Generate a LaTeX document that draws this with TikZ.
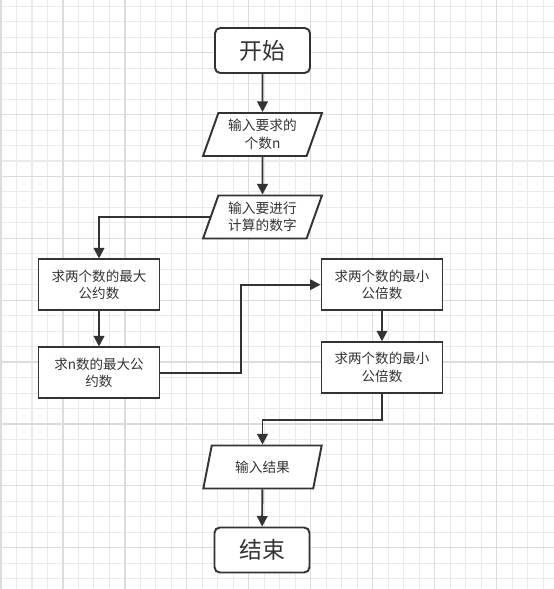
\documentclass[tikz,border=0pt]{standalone}
\usepackage{fontspec}
\setmainfont{Noto Sans CJK SC}
\usepackage{tikz}
\usetikzlibrary{shapes.geometric, arrows.meta, positioning}
\definecolor{inkgrey}{RGB}{51, 51, 51}
\definecolor{gridminor}{RGB}{234, 234, 234}
\definecolor{gridmajor}{RGB}{220, 220, 220}

\begin{document}
\begin{tikzpicture}[x=0.02cm, y=-0.02cm]
    % Styles
    \tikzstyle{startstop} = [rectangle, draw=inkgrey, fill=white, line width=1.1pt, rounded corners=3pt,
        minimum width=1.9cm, minimum height=0.9cm, text=inkgrey, font=\fontsize{13}{15}\selectfont]
    \tikzstyle{io} = [trapezium, trapezium left angle=68, trapezium right angle=112, trapezium stretches=true,
        draw=inkgrey, fill=white, line width=1.1pt, minimum width=2.38cm, minimum height=0.86cm,
        text width=1.5cm, align=center, inner sep=1pt, text=inkgrey, font=\fontsize{7.8}{10}\selectfont]
    \tikzstyle{process} = [rectangle, draw=inkgrey, fill=white, line width=1.1pt,
        minimum width=2.42cm, minimum height=1.01cm, text width=2.2cm, align=center, inner sep=1pt,
        text=inkgrey, font=\fontsize{7.7}{10}\selectfont]
    \tikzstyle{arrow} = [line width=1.1pt, inkgrey, -{Triangle[length=6pt, width=6pt]}]

    \useasboundingbox (0,0) rectangle (554,589);
    \fill[white] (0,0) rectangle (554,589);

    % Grid
    \foreach \i in {0,...,35}
        \draw[gridminor, line width=0.6pt] ({1+15.49*\i},0) -- ({1+15.49*\i},589);
    \foreach \j in {-3,...,34}
        \draw[gridminor, line width=0.6pt] (0,{52.7+15.47*\j}) -- (554,{52.7+15.47*\j});
    \foreach \i in {0,4,...,32}
        \draw[gridmajor, line width=0.7pt] ({1+15.49*\i},0) -- ({1+15.49*\i},589);
    \foreach \j in {0,4,...,32}
        \draw[gridmajor, line width=0.7pt] (0,{52.7+15.47*\j}) -- (554,{52.7+15.47*\j});

    % Nodes
    \node [startstop] (start) at (262.5,50.5) {开始};
    \node [io] (readn) at (262.5,134.5) {输入要求的\\个数n};
    \node [io] (readnums) at (262.5,217) {输入要进行\\计算的数字};
    \node [process] (gcdtwo) at (99,284.7) {求两个数的最大\\公约数};
    \node [process] (gcdn) at (99,372.7) {求n数的最大公\\约数};
    \node [process] (lcmtwo) at (382,284.7) {求两个数的最小\\公倍数};
    \node [process] (lcmn) at (382,367.5) {求两个数的最小\\公倍数};
    \node [io] (result) at (262.5,467) {输入结果};
    \node [startstop] (stop) at (262,550) {结束};

    % Arrows
    \draw [arrow] (start) -- (readn);
    \draw [arrow] (readn) -- (readnums);
    \draw [arrow] (readnums.west) -| (gcdtwo.north);
    \draw [arrow] (gcdtwo) -- (gcdn);
    \draw [arrow] (gcdn.east) -- ++(81,0) |- (lcmtwo.west);
    \draw [arrow] (lcmtwo) -- (lcmn);
    \draw [arrow] (lcmn.south) -- ++(0,26) -| (result.north);
    \draw [arrow] (result) -- (stop);
\end{tikzpicture}
\end{document}
